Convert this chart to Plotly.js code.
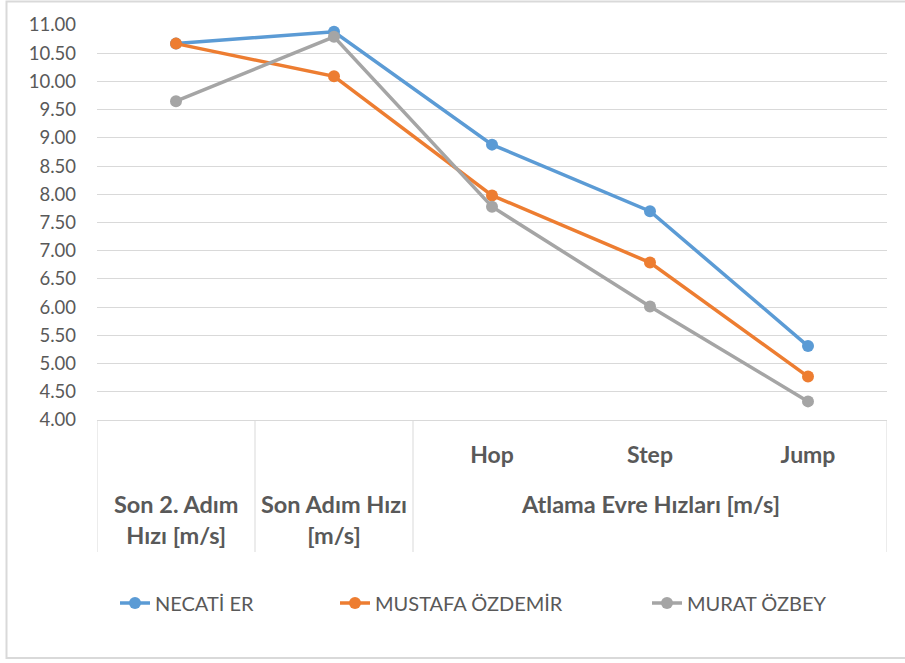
<!DOCTYPE html>
<html>
<head>
<meta charset="utf-8">
<script src="https://cdn.plot.ly/plotly-3.0.1.min.js"></script>
<style>html,body{margin:0;padding:0;background:#fff;}#chart{width:905px;height:663px;}</style>
</head>
<body>
<div id="chart"></div>
<script>
// ---- data ----
const categories = ["Son 2. Adım Hızı [m/s]", "Son Adım Hızı [m/s]", "Hop", "Step", "Jump"];
const subLabels = ["", "", "Hop", "Step", "Jump"];
const groupLabels = ["Son 2. Adım<br>Hızı [m/s]", "Son Adım Hızı<br>[m/s]", "Atlama Evre Hızları [m/s]"];
const groupMembers = [[0], [1], [2, 3, 4]];
const seriesNames = ["NECATİ ER", "MUSTAFA ÖZDEMİR", "MURAT ÖZBEY"];
const necati = [10.67, 10.88, 8.88, 7.70, 5.31];
const mustafa = [10.67, 10.09, 7.98, 6.79, 4.77];
const murat = [9.65, 10.79, 7.78, 6.01, 4.33];

const seriesValues = [necati, mustafa, murat];
const colors = ["#5B9BD5", "#ED7D31", "#A5A5A5"];
const legendIds = ["legend", "legend2", "legend3"];
const textColor = "#595959";
const fontFam = "Lato, 'Open Sans', sans-serif";

const traces = seriesValues.map((vals, i) => ({
  type: "scatter",
  mode: "lines+markers",
  name: seriesNames[i],
  x: categories,
  y: vals,
  line: {color: colors[i], width: 3.5},
  marker: {color: colors[i], size: 12},
  legend: legendIds[i],
  hoverinfo: "x+y+name"
}));

// plot area in pixels: left 97, right 887, top 25, bottom 420
const plotL = 97, plotR = 887, plotT = 25, plotB = 420;
const W = 905, H = 663;
const pw = plotR - plotL, ph = plotB - plotT;
const px = v => (v - plotL) / pw;
const py = v => (plotB - v) / ph;

const shapes = [];
// category box dividers: at group boundaries
const boundaries = [-0.5];
groupMembers.forEach(g => boundaries.push(g[g.length - 1] + 0.5));
boundaries.forEach(b => shapes.push({
  type: "line", xref: "x", yref: "paper", x0: b, x1: b, y0: 0, y1: py(552),
  line: {color: "#D9D9D9", width: 1}
}));
// outer chart border
shapes.push({
  type: "rect", xref: "paper", yref: "paper",
  x0: px(6.5), x1: px(920), y0: py(658), y1: py(1.5),
  line: {color: "#D9D9D9", width: 2}, fillcolor: "rgba(0,0,0,0)", layer: "below"
});

const annotations = groupLabels.map((lab, i) => {
  const m = groupMembers[i];
  const center = (m[0] + m[m.length - 1]) / 2;
  return {
    xref: "x", yref: "paper", x: center, y: py(488),
    xanchor: "center", yanchor: "top", showarrow: false,
    text: "<b>" + lab + "</b>",
    font: {family: fontFam, size: 23.5, color: textColor},
    align: "center"
  };
});

const legendBase = {
  orientation: "h", yanchor: "middle", xanchor: "left", y: py(603),
  font: {family: fontFam, size: 20, color: textColor},
  bgcolor: "rgba(0,0,0,0)", borderwidth: 0
};
const layout = {
  width: W, height: H,
  margin: {l: plotL, r: W - plotR, t: plotT, b: H - plotB, pad: 0},
  paper_bgcolor: "#ffffff", plot_bgcolor: "#ffffff",
  showlegend: true,
  legend: Object.assign({}, legendBase, {x: px(115)}),
  legend2: Object.assign({}, legendBase, {x: px(335)}),
  legend3: Object.assign({}, legendBase, {x: px(647)}),
  xaxis: {
    type: "category", categoryorder: "array", categoryarray: categories,
    tickmode: "array", tickvals: categories, ticktext: subLabels.map(s => s ? "<b>" + s + "</b>" : ""),
    tickfont: {family: fontFam, size: 23, color: textColor},
    ticks: "", ticklabelstandoff: 14,
    showgrid: false, zeroline: false,
    showline: true, linecolor: "#D9D9D9", linewidth: 1,
    range: [-0.5, categories.length - 0.5], fixedrange: true
  },
  yaxis: {
    range: [4, 11], dtick: 0.5, tick0: 4, tickformat: ".2f",
    tickfont: {family: fontFam, size: 18.5, color: textColor},
    ticks: "", ticklabelstandoff: 20,
    gridcolor: "#D9D9D9", gridwidth: 1,
    zeroline: false, showline: false, fixedrange: true
  },
  shapes: shapes,
  annotations: annotations
};

Plotly.newPlot("chart", traces, layout, {displayModeBar: false, staticPlot: true});
</script>
</body>
</html>
